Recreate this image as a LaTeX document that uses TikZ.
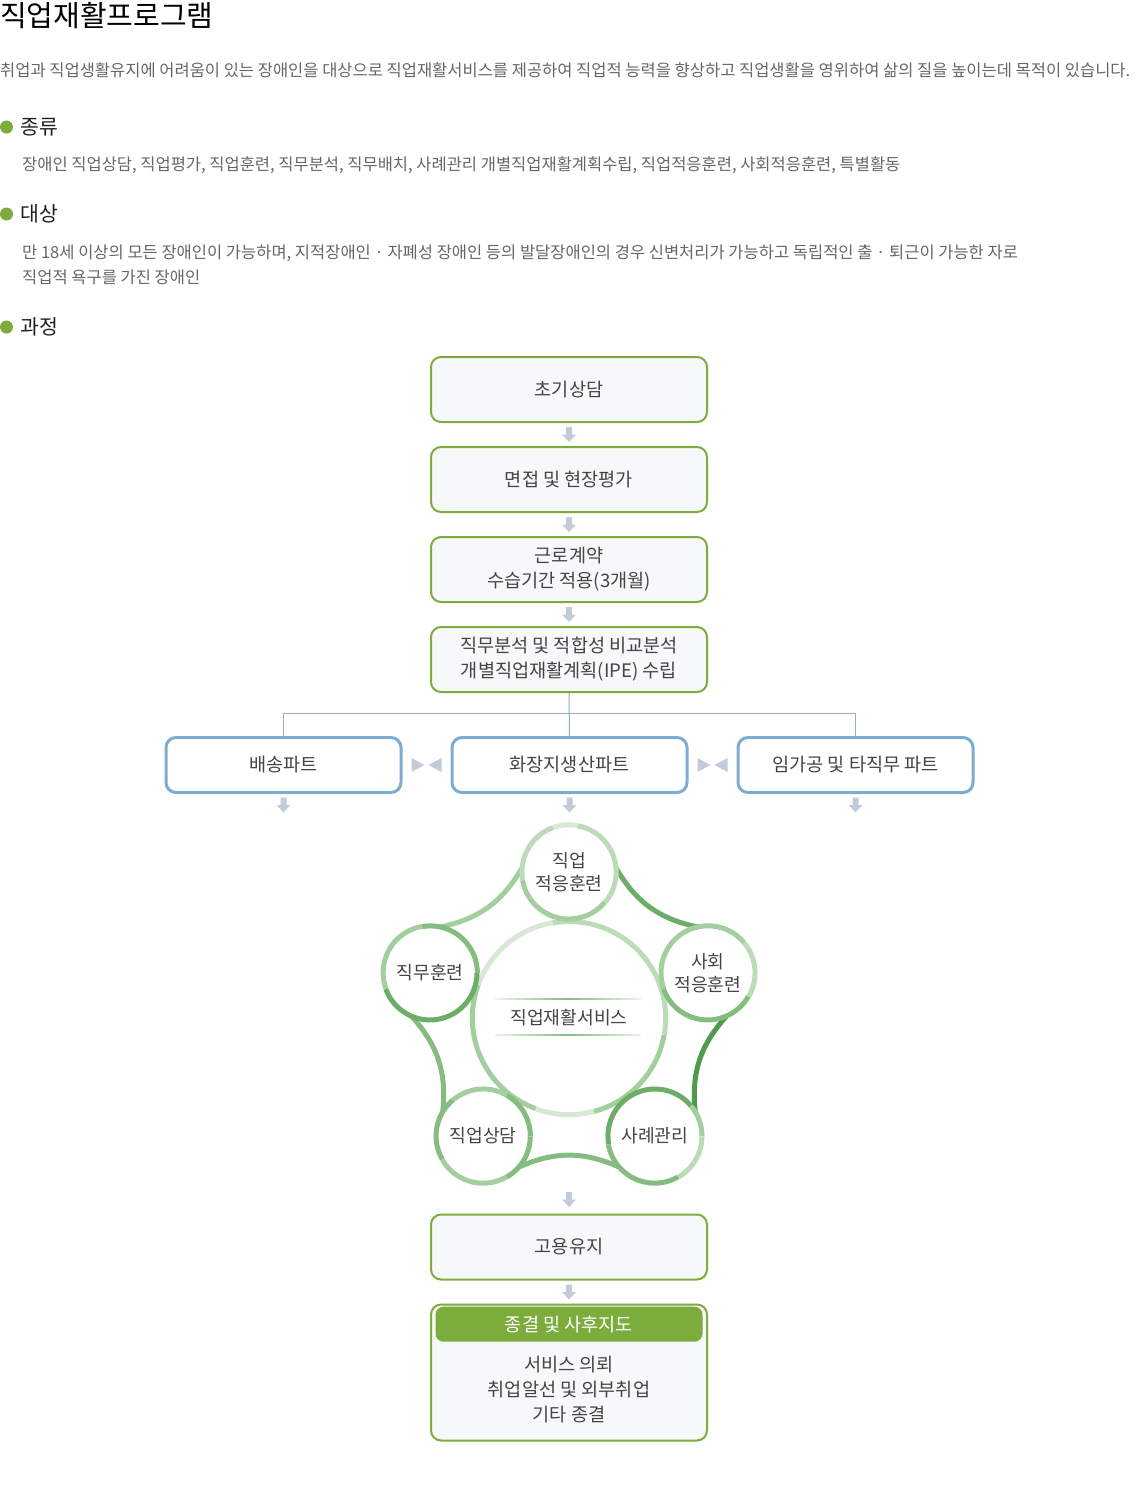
\documentclass[tikz,border=0pt]{standalone}
\usepackage{fontspec}
\setmainfont{Noto Sans CJK KR}
\usetikzlibrary{calc,positioning}

\definecolor{leaf}{HTML}{7BAC3C}
\definecolor{sky}{HTML}{7DACD2}
\definecolor{wirecol}{HTML}{94AEBE}
\definecolor{pale}{HTML}{F7F8FA}
\definecolor{ink}{HTML}{444444}
\definecolor{body}{HTML}{666666}
\definecolor{arrowgray}{HTML}{C2CBD8}
\definecolor{gA}{HTML}{D6EAD3}
\definecolor{gB}{HTML}{BCDCB7}
\definecolor{gC}{HTML}{A3CE9D}
\definecolor{gD}{HTML}{84BD7F}
\definecolor{gE}{HTML}{6CAE67}
\definecolor{gF}{HTML}{4F9A4B}

\newcommand{\fsz}[2]{\fontsize{#1}{#2}\selectfont}
% small block arrow pointing down, centred on #1
\newcommand{\downarr}[1]{\fill[arrowgray] #1 ++(-3,-7.5) -- ++(6,0) -- ++(0,7.5) -- ++(4,0) -- ++(-7,7.5) -- ++(-7,-7.5) -- ++(4,0) -- cycle;}
% two heads meeting, centred on #1
\newcommand{\meetarr}[1]{\fill[arrowgray] #1 ++(-15,-7) -- ++(13,7) -- ++(-13,7) -- cycle;
  \fill[arrowgray] #1 ++(15,-7) -- ++(-13,7) -- ++(13,7) -- cycle;}

\begin{document}
\begin{tikzpicture}[x=1pt, y=-1pt,
    stepbox/.style={draw=leaf, line width=2pt, fill=pale, rounded corners=10pt,
      minimum width=276pt, minimum height=65pt, align=center, text=ink, font=\fsz{18.6}{25}},
    partbox/.style={draw=sky, line width=3pt, fill=white, rounded corners=10pt,
      minimum width=235pt, minimum height=55pt, text=ink, font=\fsz{18.6}{25}},
    ring/.style={circle, inner sep=0pt, minimum size=94pt, align=center, text=ink, font=\fsz{18.2}{23}},
    headline/.style={anchor=west, inner sep=0pt, text=black!88, font=\fsz{20.5}{23}},
    para/.style={anchor=west, inner sep=0pt, align=left, text=body, font=\fsz{16.5}{25}},
    wire/.style={draw=wirecol, line width=1pt},
  ]
  \useasboundingbox (0,0) rectangle (1138,1500);

  % Title and intro
  \node[anchor=west, inner sep=0pt, text=black, font=\fsz{29}{30}] (title) at (0,16) {직업재활프로그램};
  \node[para] (intro) at (0,70) {취업과 직업생활유지에 어려움이 있는 장애인을 대상으로 직업재활서비스를 제공하여 직업적 능력을 향상하고 직업생활을 영위하여 삶의 질을 높이는데 목적이 있습니다.};

  % Bullet headings
  \foreach \y in {127,214,327} \fill[leaf] (6.5,\y) circle (6.5pt);
  \node[headline] (kind) at (20,127) {종류};
  \node[para] (kindtxt) at (22,165) {장애인 직업상담, 직업평가, 직업훈련, 직무분석, 직무배치, 사례관리 개별직업재활계획수립, 직업적응훈련, 사회적응훈련, 특별활동};
  \node[headline] (who) at (20,214) {대상};
  \node[para] (whotxt) at (22,264.5) {만 18세 이상의 모든 장애인이 가능하며, 지적장애인 · 자폐성 장애인 등의 발달장애인의 경우 신변처리가 가능하고 독립적인 출 · 퇴근이 가능한 자로\\직업적 욕구를 가진 장애인};
  \node[headline] (flow) at (20,327) {과정};

  % Steps
  \node[stepbox] (s1) at (569,389.5) {초기상담};
  \node[stepbox, below=23pt of s1] (s2) {면접 및 현장평가};
  \node[stepbox, below=23pt of s2] (s3) {근로계약\\수습기간 적용(3개월)};
  \node[stepbox, below=23pt of s3] (s4) {직무분석 및 적합성 비교분석\\개별직업재활계획(IPE) 수립};
  \downarr{($(s1.south)!.5!(s2.north)$)}
  \downarr{($(s2.south)!.5!(s3.north)$)}
  \downarr{($(s3.south)!.5!(s4.north)$)}

  % Parts
  \node[partbox] (p2) at (569.5,765) {화장지생산파트};
  \node[partbox, left=48pt of p2] (p1) {배송파트};
  \node[partbox, right=48pt of p2] (p3) {임가공 및 타직무 파트};
  \coordinate (fork) at ($(s4.south)+(0,20)$);
  \draw[wire] (s4.south) -- (p2.north);
  \draw[wire] (fork) -| (p1.north);
  \draw[wire] (fork) -| (p3.north);
  \meetarr{($(p1.east)!.5!(p2.west)$)}
  \meetarr{($(p2.east)!.5!(p3.west)$)}
  \foreach \p in {p1,p2,p3} {\downarr{($(\p.south)+(0,11)$)}}

  % Service cycle
  \node[circle, inner sep=0pt, minimum size=193pt, text=ink, font=\fsz{18.2}{23}] (c0) at (569,1018) {직업재활서비스};
  \foreach \n/\a/\t in {c1/90/{직업\\적응훈련}, c2/18/{사회\\적응훈련}, c3/-54/사례관리, c4/-126/직업상담, c5/162/직무훈련}
    \node[ring] (\n) at ($(c0)+(\a:146pt)$) {\t};

  % links between the small circles
  \foreach \a/\b/\ang/\c in {c5/c1/162/gC, c1/c2/90/gE, c2/c3/18/gF, c3/c4/-54/gD, c4/c5/-126/gD}{
    \pgfmathtruncatemacro\sa{mod(\ang-85+720,360)}
    \pgfmathtruncatemacro\ea{mod(\ang+13+720,360)}
    \pgfmathtruncatemacro\oa{\ang-150}
    \pgfmathtruncatemacro\ia{\ang+78}
    \draw[line width=5pt, line cap=round, \c] (\a.\sa) to[out=\oa, in=\ia] (\b.\ea);
  }

  % ring segments: node/start/end/colour
  \foreach \s/\e/\c in {0/100/gB, 100/160/gA, 160/250/gC, 250/285/gA, 285/350/gC, 350/360/gB}
    \draw[line width=5pt, \c] (c0.\s) arc[start angle=\s, end angle=\e, radius=96.5pt];
  \foreach \n/\s/\e/\c in {c1/0/80/gB, c1/80/110/gA, c1/110/190/gB, c1/190/320/gC, c1/320/360/gB,
      c2/0/40/gB, c2/40/200/gC, c2/200/330/gD, c2/330/360/gB,
      c3/0/40/gC, c3/40/190/gE, c3/190/300/gD, c3/300/360/gB,
      c4/0/60/gD, c4/60/130/gC, c4/130/210/gD, c4/210/300/gC, c4/300/360/gD,
      c5/0/100/gD, c5/100/200/gC, c5/200/360/gE}
    \draw[line width=5pt, \c] (\n.\s) arc[start angle=\s, end angle=\e, radius=47pt];
  \fill[left color=gB!30, right color=gB!30, middle color=gD] (495,998.6) rectangle (641,999.8);
  \fill[left color=gB!30, right color=gB!30, middle color=gD] (495,1034.6) rectangle (641,1035.8);

  % Closing steps
  \node[stepbox] (s5) at (569,1247) {고용유지};
  \downarr{($(s5.north)+(0,-14)$)}
  \node[stepbox, minimum height=136pt, below=23pt of s5] (s6) {};
  \downarr{($(s5.south)!.5!(s6.north)$)}
  \node[fill=leaf, rounded corners=8pt, inner sep=0pt, minimum width=267pt, minimum height=35pt,
    text=white, font=\fsz{18.6}{25}, below=3pt of s6.north] (s6head) {종결 및 사후지도};
  \node[align=center, text=ink, font=\fsz{18.6}{25}] (s6txt) at ($(s6.center)+(0,17.5)$) {서비스 의뢰\\취업알선 및 외부취업\\기타 종결};
\end{tikzpicture}
\end{document}
